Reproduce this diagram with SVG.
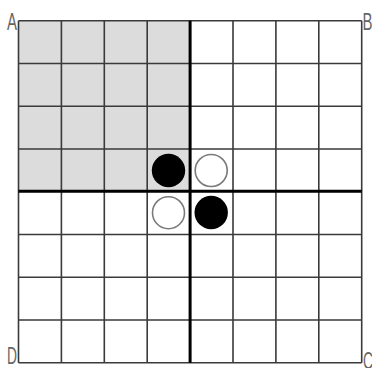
<svg xmlns="http://www.w3.org/2000/svg" width="372" height="368" viewBox="0 0 372 368">
<style>
.g{stroke:#3a3a3a;stroke-width:1.6;fill:none}
.t{stroke:#000;stroke-width:3;fill:none}
.lbl{font-family:"Liberation Sans",Arial,sans-serif;font-size:23px;fill:#666}
.b{fill:#000}
.w{fill:#fff;stroke:#7a7a7a;stroke-width:1.6}
</style>
<rect width="372" height="368" fill="#fff"/>
<g id="shade"><rect x="18.5" y="20.7" width="171.6" height="171" fill="#dcdcdc"/></g>
<g id="grid">
<path class="g" d="M18.5 20.7V362.7M61.4 20.7V362.7M104.3 20.7V362.7M147.2 20.7V362.7M233 20.7V362.7M275.9 20.7V362.7M318.8 20.7V362.7M361.7 20.7V362.7"/>
<path class="g" d="M18.5 20.7H361.7M18.5 63.45H361.7M18.5 106.2H361.7M18.5 148.95H361.7M18.5 234.45H361.7M18.5 277.2H361.7M18.5 319.95H361.7M18.5 362.7H361.7"/>
<path class="t" d="M190.1 20.7V362.7M18.5 191.2H361.7"/>
</g>
<g id="stones">
<circle class="b" cx="168.5" cy="170.5" r="16.7"/>
<circle class="w" cx="211.2" cy="170.5" r="16"/>
<circle class="w" cx="168.5" cy="212.7" r="16"/>
<circle class="b" cx="211.2" cy="212.5" r="16.7"/>
</g>
<g id="labels">
<text class="lbl" x="7" y="30" textLength="10" lengthAdjust="spacingAndGlyphs">A</text>
<text class="lbl" x="362.5" y="30" textLength="10" lengthAdjust="spacingAndGlyphs">B</text>
<text class="lbl" x="7" y="364" textLength="10" lengthAdjust="spacingAndGlyphs">D</text>
<text class="lbl" x="363" y="369" textLength="10" lengthAdjust="spacingAndGlyphs">C</text>
</g>
</svg>
